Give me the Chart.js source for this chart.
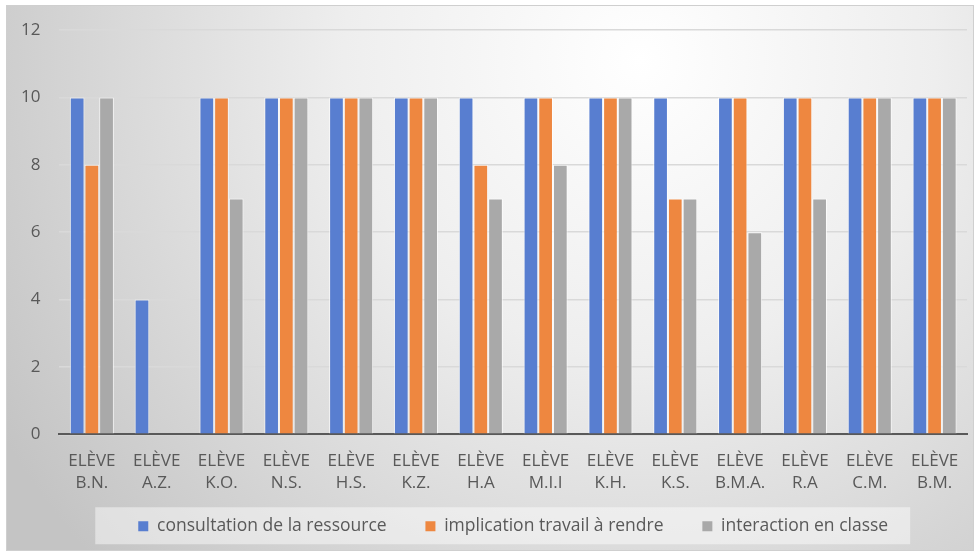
<!DOCTYPE html>
<html>
<head>
<meta charset="utf-8">
<script src="https://cdn.jsdelivr.net/npm/chart.js@4/dist/chart.umd.min.js"></script>
<style>
  html, body { margin: 0; padding: 0; background: #fff; }
  #wrap { width: 979px; height: 556px; }
</style>
</head>
<body>
<div id="wrap"><canvas id="chart_eleves" width="979" height="556"></canvas></div>
<script>
// élèves (two-line labels)
const eleves = ['B.N.', 'A.Z.', 'K.O.', 'N.S.', 'H.S.', 'K.Z.', 'H.A', 'M.I.I', 'K.H.', 'K.S.', 'B.M.A.', 'R.A', 'C.M.', 'B.M.'];
const consultation = [10, 4, 10, 10, 10, 10, 10, 10, 10, 10, 10, 10, 10, 10];
const implication  = [8, 0, 10, 10, 10, 10, 8, 10, 10, 7, 10, 10, 10, 10];
const interaction  = [10, 0, 7, 10, 10, 10, 7, 8, 10, 7, 6, 7, 10, 10];
const yTicks = [0, 2, 4, 6, 8, 10, 12];

const FONT = '"Open Sans", sans-serif';
const TXT = '#595959';
const GAP = '\u00a0'.repeat(7); // espace entre les entrées de la légende

// fond dégradé + cadre + fond de la légende
const backdrop = {
    id: 'backdrop',
    beforeDraw(chart) {
        const ctx = chart.ctx;
        const w = chart.width, h = chart.height;
        ctx.save();
        ctx.fillStyle = '#fff';
        ctx.fillRect(0, 0, w, h);
        const g = ctx.createRadialGradient(640, 60, 0, 640, 60, 740);
        g.addColorStop(0, '#ffffff');
        g.addColorStop(0.4, '#eeeeee');
        g.addColorStop(1, '#c4c4c4');
        ctx.fillStyle = g;
        ctx.fillRect(6, 5, w - 11, h - 10);
        ctx.strokeStyle = '#cfcfcf';
        ctx.lineWidth = 1;
        ctx.strokeRect(6.5, 5.5, w - 12, h - 11);
        // légende
        const lg = chart.legend;
        if (lg && lg.legendHitBoxes && lg.legendHitBoxes.length) {
            const boxes = lg.legendHitBoxes;
            const l = Math.min(...boxes.map(b => b.left)) - 43;
            const r = Math.max(...boxes.map(b => b.left + b.width)) + 22;
            const t = boxes[0].top + boxes[0].height / 2 - 19;
            ctx.fillStyle = 'rgba(255,255,255,0.45)';
            ctx.fillRect(l, t, r - l, 37);
        }
        ctx.restore();
    }
};

const chart = new Chart('chart_eleves', {
    type: 'bar',
    data: {
        labels: eleves.map(e => ['ELÈVE', e]),
        datasets: [
            { label: 'consultation de la ressource', data: consultation, backgroundColor: '#587ED0' },
            { label: 'implication travail à rendre', data: implication, backgroundColor: '#EE8740' },
            { label: 'interaction en classe', data: interaction, backgroundColor: '#A9A9A9' }
        ].map(d => Object.assign(d, {
            borderColor: 'rgba(255,255,255,0.7)',
            borderWidth: 1,
            borderSkipped: 'bottom',
            categoryPercentage: 0.68,
            barPercentage: 1.0
        }))
    },
    options: {
        responsive: false,
        animation: false,
        layout: { padding: { top: 30, right: 12, left: 2, bottom: 11 } },
        plugins: {
            tooltip: { enabled: false },
            legend: {
                position: 'bottom',
                fullSize: false,
                labels: {
                    font: { family: FONT, size: 17.5 },
                    color: TXT,
                    boxWidth: 10,
                    boxHeight: 10,
                    padding: 7,
                    generateLabels(ch) {
                        const items = Chart.defaults.plugins.legend.labels.generateLabels(ch);
                        items.forEach((it, i) => {
                            it.lineWidth = 0;
                            if (i < items.length - 1) it.text += GAP;
                        });
                        return items;
                    }
                }
            }
        },
        scales: {
            x: {
                grid: { display: false, drawTicks: false },
                border: { color: '#595959', width: 2 },
                ticks: {
                    font: { family: FONT, size: 17, lineHeight: 1.3 },
                    color: TXT,
                    maxRotation: 0,
                    autoSkip: false,
                    padding: 16
                }
            },
            y: {
                min: 0,
                max: 12,
                afterBuildTicks(scale) {
                    scale.ticks = yTicks.map(v => ({ value: v }));
                },
                grid: { color: '#d9d9d9', drawTicks: false, lineWidth: 1.5 },
                border: { display: false },
                ticks: {
                    font: { family: FONT, size: 17 },
                    color: TXT,
                    padding: 19
                }
            }
        }
    },
    plugins: [backdrop]
});
</script>
</body>
</html>
